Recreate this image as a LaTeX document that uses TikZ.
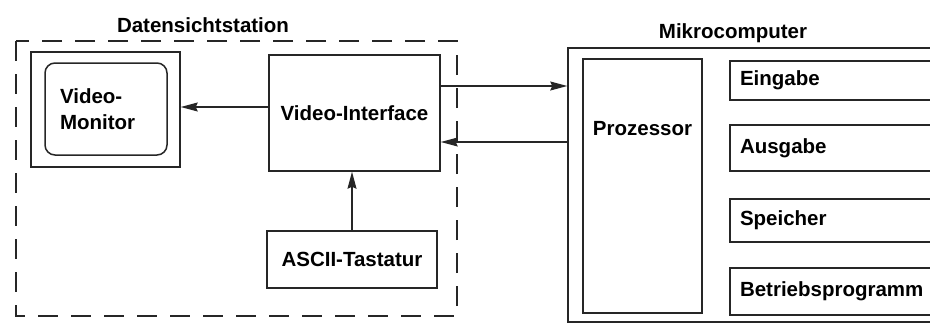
\documentclass[tikz,border=0pt]{standalone}
\usepackage{fontspec}
\setmainfont{Liberation Sans}
\usetikzlibrary{arrows.meta}

\begin{document}
\begin{tikzpicture}[
  x=1pt, y=-1pt,
  font=\fontsize{20.5}{26}\selectfont\bfseries,
  box/.style={draw=black!85, line width=1.5pt, inner sep=0pt, align=center},
  unit/.style={box, text width=250pt, inner xsep=10pt, align=left,
               minimum width=270pt},
  head/.style={font=\fontsize{20.5}{26}\selectfont\bfseries, align=center},
  frame/.style={draw=black!85, line width=1.5pt, dash pattern=on 20pt off 13pt},
  arr/.style={draw=black!85, line width=1.2pt, -{Stealth[length=17pt,width=9pt,inset=2pt]}},
]
  \useasboundingbox (0,0) rectangle (930,324);
  \clip (0,0) rectangle (930,324);

  % Datensichtstation
  \draw[frame] (16,41) rectangle (457,316);
  \node[head] (dsslabel) at (203,25) {Datensichtstation};

  \node[box, minimum width=149pt, minimum height=115pt] (mon) at (105.5,109.5) {};
  \node[box, rounded corners=10pt, text width=92pt, inner xsep=15pt, align=left,
        minimum height=92pt] (scr) at (106,109) {Video-\\Monitor};
  \node[box, minimum width=171pt, minimum height=116pt] (vi) at (354.5,113) {Video-Interface};
  \node[box, minimum width=170pt, minimum height=57pt] (kb) at (352,259.5) {ASCII-Tastatur};

  % Mikrocomputer
  \node[head] (mclabel) at (733,33) {Mikrocomputer};
  \node[box, minimum width=432pt, minimum height=274pt] (mc) at (784,185) {};
  \node[box, minimum width=119pt, minimum height=254pt,
        label={[anchor=north, yshift=-60pt]north:Prozessor}] (proz) at (642.5,186) {};

  \node[unit, minimum height=39pt] (ein) at (865,80.5) {Eingabe};
  \node[unit, minimum height=46pt] (aus) at (865,148) {Ausgabe};
  \node[unit, minimum height=43pt] (spe) at (865,220.5) {Speicher};
  \node[unit, minimum height=47pt] (bet) at (865,291.5) {Betriebsprogramm};

  % connections
  \coordinate (vimon) at ([yshift=6pt]vi.west);
  \coordinate (vimc) at ([yshift=27pt]vi.east);
  \coordinate (mcvi) at ([yshift=-29pt]vi.east);
  \draw[arr] (vimon) -- (vimon -| mon.east);
  \draw[arr] (kb.north) -- (kb.north |- vi.south);
  \draw[arr] (vimc) -- (vimc -| mc.west);
  \draw[arr] (mcvi -| mc.west) -- (mcvi);
\end{tikzpicture}
\end{document}
